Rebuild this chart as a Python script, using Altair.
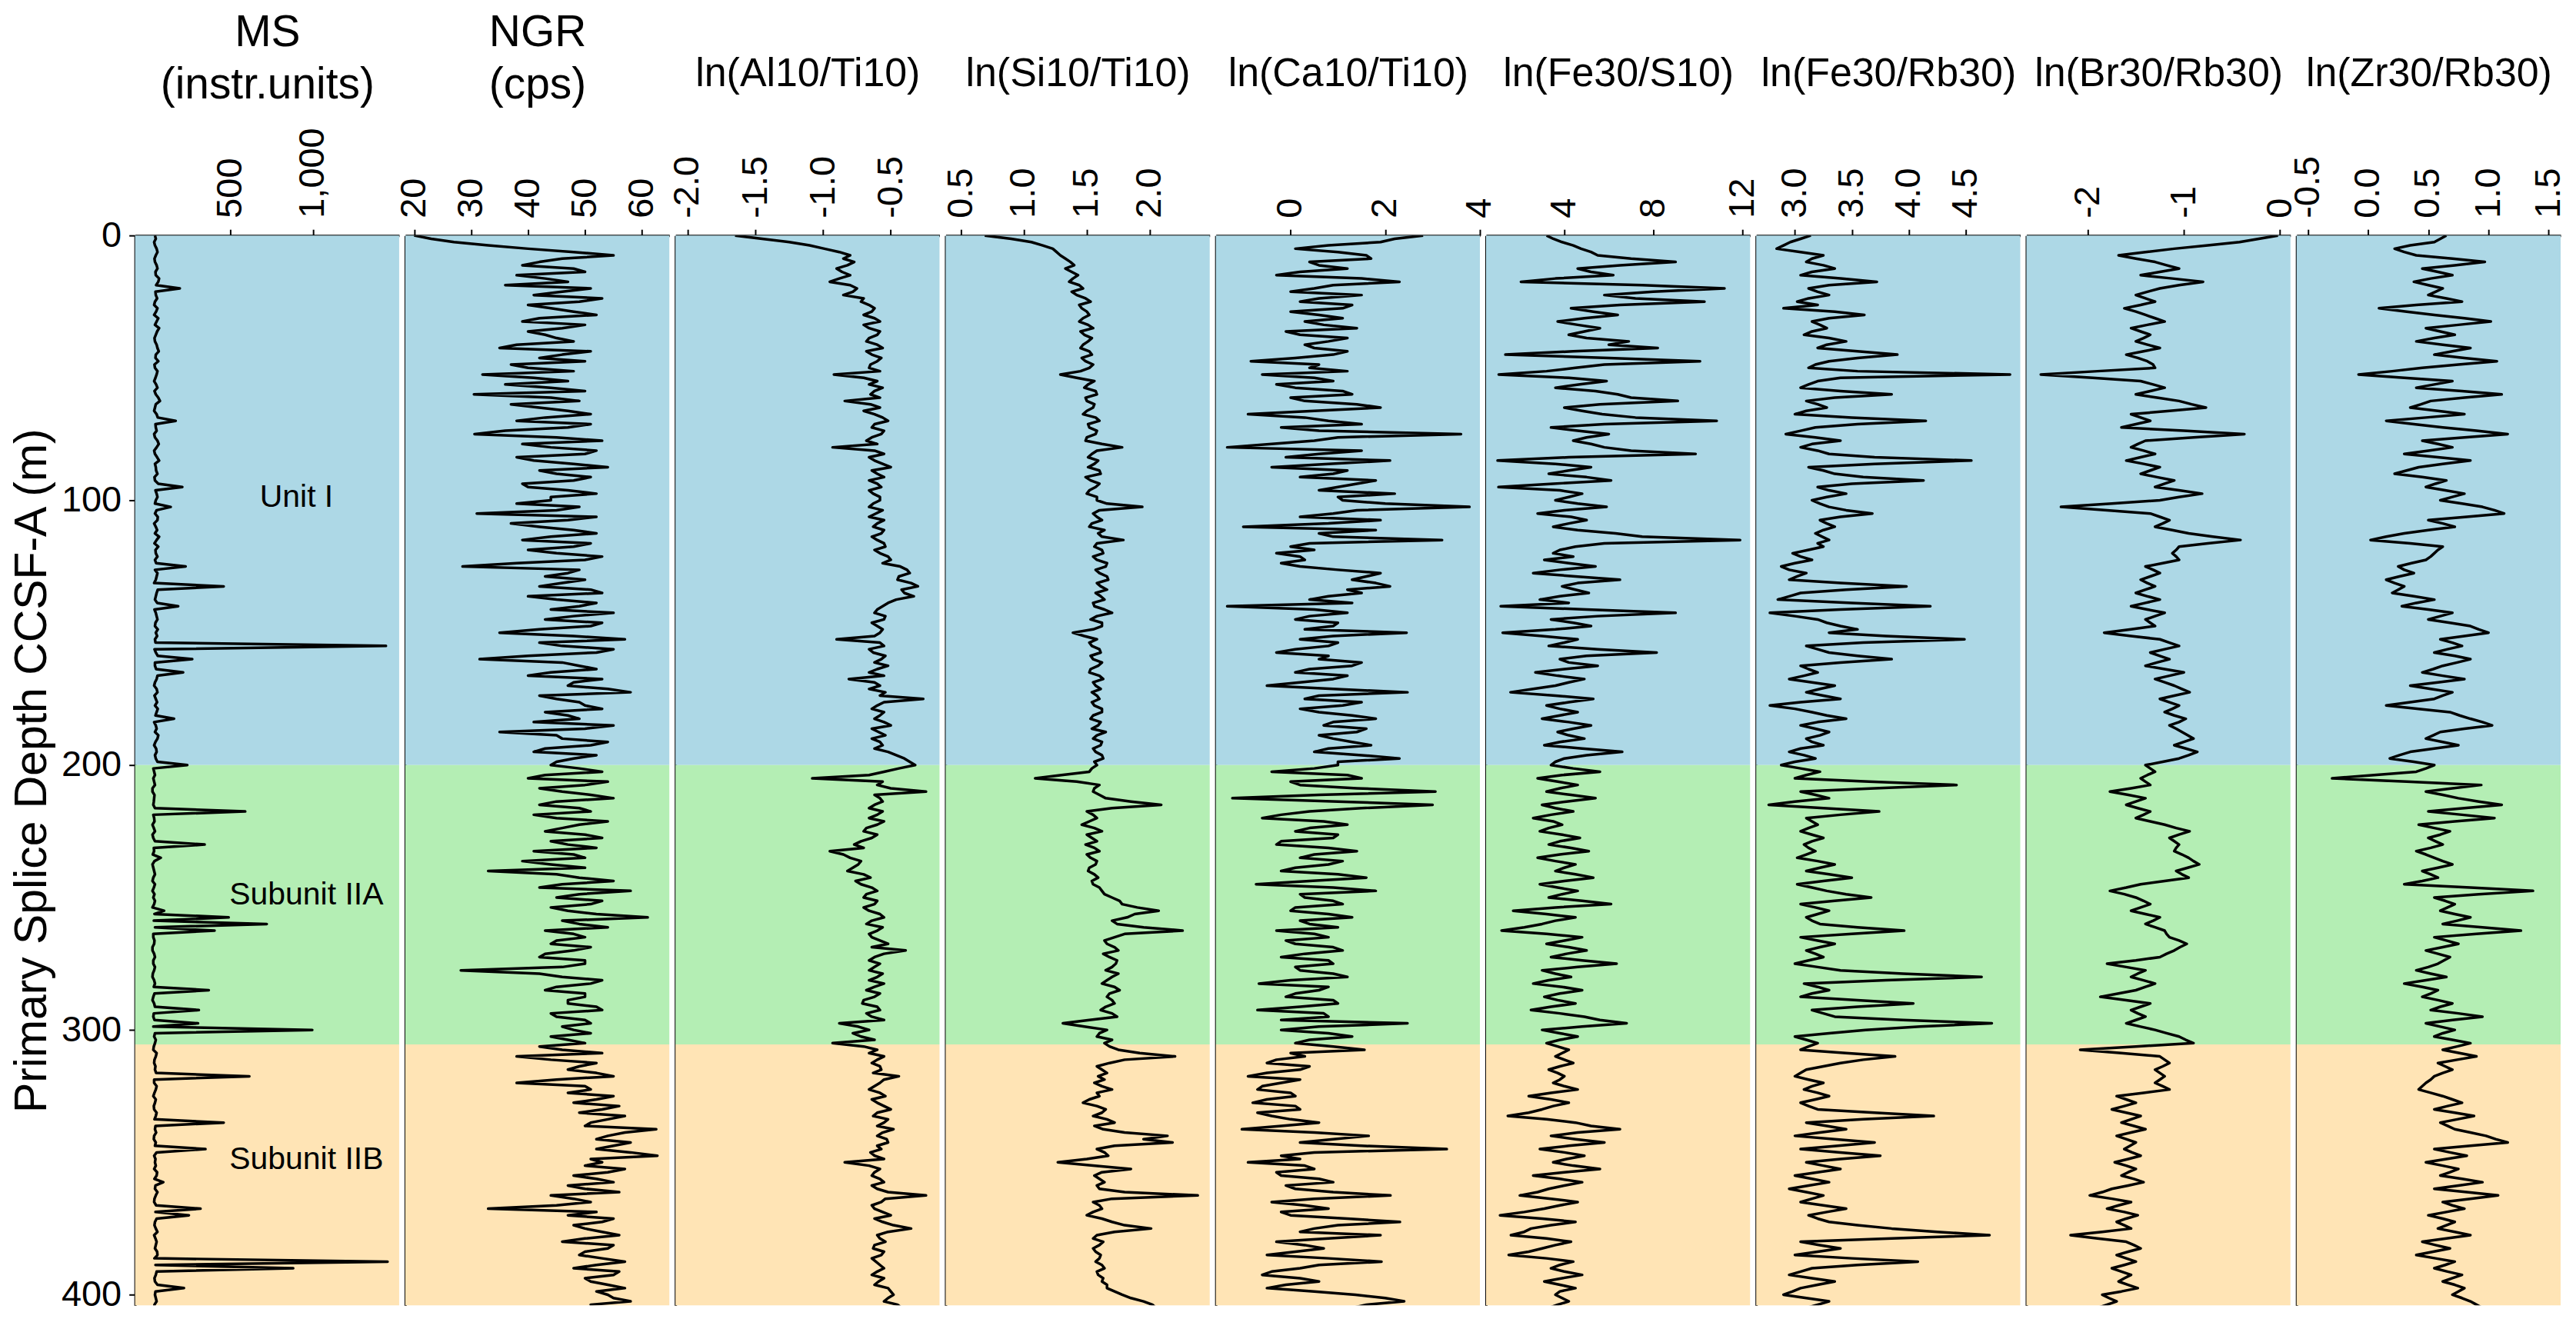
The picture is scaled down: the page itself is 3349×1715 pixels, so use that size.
import altair as alt
import pandas as pd

FONT = "Liberation Sans, Arial, sans-serif"

# depth grids (m): main samples every 2.5 m, intermediate samples half-way between
depth = [round(i * 2.5, 2) for i in range(164)]
depth_mid = [round(1.25 + i * 2.5, 2) for i in range(163)]

ms = [
    45, 40, 55, 50, 45, 60, 50, 65, 195, 50, 45, 60, 40, 55, 70, 50, 45, 60, 50, 65,
    45, 55, 40, 60, 50, 75, 45, 55, 170, 50, 40, 60, 55, 45, 70, 50, 60, 45, 210, 55,
    50, 140, 45, 60, 50, 45, 55, 65, 50, 45, 230, 60, 50, 460, 55, 45, 185, 50, 60, 45,
    50, 45, 1440, 50, 270, 45, 215, 55, 40, 60, 50, 45, 55, 160, 50, 45, 60, 40, 55, 50,
    240, 40, 35, 45, 30, 40, 35, 590, 40, 30, 45, 35, 345, 40, 80, 30, 40, 35, 45, 30,
    35, 40, 100, 490, 720, 405, 35, 40, 30, 45, 35, 40, 30, 45, 370, 35, 40, 310, 35, 305,
    995, 40, 45, 35, 50, 40, 45, 615, 40, 50, 35, 45, 40, 50, 460, 45, 40, 50, 350, 40,
    45, 40, 55, 95, 45, 50, 40, 320, 250, 45, 50, 40, 55, 45, 60, 1450, 880, 50, 45, 220,
    45, 55, 40, 50,
]
ms_mid = [
    50, 45, 60, 42, 55, 48, 70, 52, 48, 58, 40, 52, 65, 45, 58, 42, 55, 68, 48, 42,
    60, 48, 52, 42, 65, 50, 40, 62, 48, 55, 45, 68, 40, 58, 45, 52, 42, 65, 48, 60,
    45, 55, 62, 40, 58, 70, 42, 48, 60, 52, 45, 55, 40, 62, 50, 58, 42, 55, 48, 62,
    58, 48, 42, 62, 45, 52, 60, 45, 55, 42, 58, 62, 48, 40, 55, 65, 48, 52, 45, 60,
    35, 45, 40, 30, 42, 38, 45, 35, 42, 38, 30, 45, 38, 32, 42, 35, 45, 30, 38, 42,
    45, 30, 42, 38, 45, 35, 42, 30, 40, 35, 45, 32, 40, 38, 42, 30, 45, 38, 42, 35,
    45, 50, 38, 55, 42, 48, 52, 40, 55, 42, 50, 38, 55, 42, 48, 52, 38, 45, 55, 48,
    50, 58, 42, 48, 60, 42, 52, 48, 55, 42, 60, 48, 50, 58, 42, 48, 55, 42, 60, 48,
    50, 42, 58,
]

ngr = [
    20, 27, 40, 55, 42, 48, 38, 47, 51, 41, 49, 44, 52, 39, 46, 43, 48, 35, 46, 50,
    40, 32, 47, 44, 30.5, 49, 42, 51, 38, 47, 30.6, 53, 44, 50, 41, 54, 45, 48, 40, 52,
    44, 49, 31, 47, 42, 52, 39, 48, 45, 50, 28.5, 47, 50, 42, 53, 45, 49, 55, 43, 51,
    35, 57, 46, 52, 31.5, 49, 44, 53, 47, 58, 45, 50, 43, 49, 55, 35, 46, 51, 41, 48,
    44, 53, 40, 50, 46, 55, 42, 51, 45, 49, 43, 53, 47, 41, 50, 44, 33, 49, 46, 58,
    45, 51, 47, 61, 49, 43, 50, 44, 48, 42, 50, 28.2, 46, 51, 43, 50, 47, 53, 45, 51,
    48, 44, 50, 46, 38, 52, 47, 55, 38, 51, 55, 48, 53, 57, 51, 62.5, 54, 58, 52, 62.7,
    53, 57, 48, 55, 50, 44, 51, 33, 47, 53, 50, 56, 46, 54, 49, 57, 48, 55, 51, 57,
    54, 58, 52, 56,
]
ngr_mid = [
    23, 33, 48, 46, 39, 50, 43, 36, 46, 53, 40, 48, 42, 50, 40, 45, 38, 51, 42, 37,
    48, 41, 36, 50, 44, 37, 47, 43, 51, 36, 45, 39, 52, 38, 48, 42, 51, 39, 47, 44,
    38, 45, 52, 37, 48, 44, 51, 40, 53, 38, 49, 43, 46, 51, 40, 52, 44, 48, 53, 42,
    48, 42, 55, 40, 46, 52, 40, 48, 54, 42, 49, 53, 47, 41, 50, 45, 54, 43, 52, 45,
    49, 43, 54, 42, 51, 45, 49, 41, 54, 46, 50, 44, 52, 48, 39, 50, 45, 55, 42, 49,
    53, 44, 52, 46, 54, 48, 45, 51, 43, 50, 46, 42, 53, 45, 50, 47, 52, 44, 50, 46,
    51, 47, 42, 53, 44, 49, 52, 45, 50, 47, 52, 56, 49, 54, 50, 57, 52, 55, 58, 51,
    50, 54, 52, 47, 56, 48, 45, 52, 55, 48, 53, 50, 55, 50, 53, 52, 56, 50, 54, 52,
    55, 51, 57,
]

al_ti = [
    -1.65, -1.25, -0.99, -0.80, -0.77, -0.90, -0.80, -0.95, -0.75, -0.85, -0.72, -0.62, -0.70, -0.58, -0.66, -0.60, -0.68, -0.56, -0.64, -0.60,
    -0.66, -0.92, -0.60, -0.56, -0.65, -0.84, -0.58, -0.62, -0.52, -0.64, -0.57, -0.68, -0.93, -0.55, -0.62, -0.50, -0.60, -0.66, -0.57, -0.63,
    -0.58, -0.66, -0.61, -0.55, -0.63, -0.57, -0.60, -0.54, -0.58, -0.50, -0.43, -0.36, -0.45, -0.30, -0.40, -0.46, -0.56, -0.62, -0.55, -0.60,
    -0.58, -0.90, -0.55, -0.63, -0.57, -0.52, -0.66, -0.81, -0.58, -0.54, -0.26, -0.60, -0.55, -0.62, -0.50, -0.59, -0.64, -0.56, -0.52, -0.40,
    -0.32, -0.55, -1.08, -0.60, -0.24, -0.58, -0.62, -0.56, -0.66, -0.60, -0.70, -0.64, -0.77, -0.95, -0.80, -0.74, -0.82, -0.65, -0.72, -0.60,
    -0.70, -0.62, -0.66, -0.55, -0.68, -0.60, -0.64, -0.52, -0.39, -0.62, -0.58, -0.66, -0.60, -0.55, -0.68, -0.62, -0.71, -0.58, -0.64, -0.88,
    -0.66, -0.72, -0.93, -0.60, -0.55, -0.64, -0.57, -0.44, -0.58, -0.66, -0.54, -0.60, -0.50, -0.63, -0.55, -0.48, -0.60, -0.52, -0.57, -0.62,
    -0.84, -0.58, -0.64, -0.55, -0.60, -0.24, -0.57, -0.62, -0.50, -0.56, -0.35, -0.60, -0.54, -0.63, -0.57, -0.61, -0.55, -0.64, -0.59, -0.52,
    -0.48, -0.55, -0.42, -0.40,
]
al_ti_mid = [
    -1.45, -1.10, -0.88, -0.85, -0.82, -0.86, -0.88, -0.80, -0.78, -0.70, -0.66, -0.64, -0.62, -0.70, -0.58, -0.66, -0.60, -0.68, -0.57, -0.65,
    -0.58, -0.70, -0.66, -0.62, -0.58, -0.65, -0.70, -0.56, -0.62, -0.55, -0.64, -0.60, -0.62, -0.66, -0.56, -0.64, -0.55, -0.60, -0.66, -0.58,
    -0.63, -0.56, -0.66, -0.60, -0.55, -0.64, -0.55, -0.62, -0.52, -0.56, -0.38, -0.44, -0.35, -0.42, -0.33, -0.52, -0.60, -0.54, -0.64, -0.56,
    -0.62, -0.58, -0.66, -0.54, -0.62, -0.60, -0.55, -0.62, -0.66, -0.58, -0.55, -0.64, -0.58, -0.55, -0.64, -0.54, -0.58, -0.62, -0.46, -0.36,
    -0.44, -0.66, -0.56, -0.50, -0.62, -0.56, -0.66, -0.60, -0.55, -0.68, -0.60, -0.72, -0.70, -0.85, -0.72, -0.78, -0.70, -0.76, -0.64, -0.68,
    -0.60, -0.70, -0.58, -0.64, -0.56, -0.66, -0.58, -0.64, -0.55, -0.66, -0.62, -0.56, -0.66, -0.62, -0.58, -0.70, -0.60, -0.68, -0.55, -0.74,
    -0.78, -0.62, -0.70, -0.66, -0.60, -0.58, -0.63, -0.55, -0.62, -0.58, -0.64, -0.55, -0.60, -0.52, -0.60, -0.56, -0.53, -0.60, -0.65, -0.55,
    -0.66, -0.62, -0.58, -0.64, -0.52, -0.54, -0.64, -0.56, -0.62, -0.48, -0.52, -0.58, -0.62, -0.55, -0.64, -0.58, -0.60, -0.55, -0.62, -0.50,
    -0.52, -0.45, -0.46,
]

si_ti = [
    0.69, 1.06, 1.23, 1.29, 1.37, 1.33, 1.43, 1.36, 1.47, 1.42, 1.53, 1.46, 1.52, 1.44, 1.55, 1.48, 1.51, 1.45, 1.54, 1.49,
    1.52, 1.29, 1.56, 1.48, 1.58, 1.50, 1.55, 1.47, 1.60, 1.52, 1.57, 1.49, 1.78, 1.54, 1.59, 1.51, 1.61, 1.53, 1.57, 1.50,
    1.58, 1.94, 1.55, 1.62, 1.52, 1.59, 1.79, 1.56, 1.63, 1.58, 1.65, 1.60, 1.67, 1.61, 1.57, 1.64, 1.56, 1.70, 1.53, 1.62,
    1.39, 1.58, 1.54, 1.61, 1.55, 1.59, 1.52, 1.63, 1.57, 1.54, 1.60, 1.56, 1.62, 1.53, 1.59, 1.65, 1.55, 1.61, 1.57, 1.63,
    1.58, 1.52, 1.09, 1.60, 1.55, 1.65, 2.09, 1.50, 1.58, 1.46, 1.62, 1.54, 1.49, 1.60, 1.53, 1.57, 1.51, 1.59, 1.55, 1.62,
    1.70, 1.78, 2.07, 1.82, 1.74, 2.26, 1.72, 1.66, 1.75, 1.68, 1.73, 1.65, 1.70, 1.62, 1.76, 1.66, 1.72, 1.61, 1.74, 1.31,
    1.66, 1.58, 1.64, 1.75, 2.20, 1.68, 1.62, 1.59, 1.56, 1.70, 1.60, 1.47, 1.65, 1.55, 1.72, 1.63, 2.14, 2.18, 1.58, 1.67,
    1.27, 1.85, 1.56, 1.64, 1.60, 2.38, 1.55, 1.62, 1.50, 1.70, 2.01, 1.58, 1.63, 1.55, 1.61, 1.57, 1.64, 1.59, 1.62, 1.66,
    1.78, 1.95, 2.05, 1.98,
]
si_ti_mid = [
    0.90, 1.15, 1.26, 1.33, 1.40, 1.38, 1.39, 1.44, 1.38, 1.49, 1.44, 1.50, 1.47, 1.51, 1.45, 1.54, 1.47, 1.52, 1.46, 1.55,
    1.45, 1.42, 1.51, 1.57, 1.49, 1.56, 1.50, 1.57, 1.51, 1.58, 1.50, 1.62, 1.58, 1.51, 1.56, 1.60, 1.49, 1.60, 1.52, 1.58,
    1.66, 1.60, 1.58, 1.54, 1.64, 1.62, 1.58, 1.62, 1.55, 1.66, 1.57, 1.66, 1.58, 1.66, 1.61, 1.55, 1.64, 1.58, 1.62, 1.55,
    1.48, 1.52, 1.60, 1.53, 1.62, 1.53, 1.60, 1.55, 1.61, 1.58, 1.54, 1.62, 1.55, 1.61, 1.54, 1.58, 1.62, 1.55, 1.62, 1.56,
    1.54, 1.30, 1.42, 1.56, 1.60, 1.85, 1.70, 1.55, 1.52, 1.56, 1.50, 1.58, 1.56, 1.50, 1.58, 1.52, 1.56, 1.54, 1.60, 1.64,
    1.76, 1.90, 1.88, 1.70, 1.95, 1.80, 1.64, 1.72, 1.63, 1.74, 1.70, 1.75, 1.66, 1.72, 1.68, 1.70, 1.65, 1.70, 1.52, 1.48,
    1.60, 1.70, 1.68, 1.92, 1.80, 1.58, 1.66, 1.64, 1.62, 1.58, 1.52, 1.58, 1.62, 1.66, 1.56, 1.80, 1.95, 1.72, 1.64, 1.50,
    1.55, 1.62, 1.60, 1.58, 1.80, 1.70, 1.60, 1.55, 1.62, 1.80, 1.72, 1.55, 1.60, 1.57, 1.60, 1.62, 1.58, 1.63, 1.66, 1.72,
    1.85, 2.02, 1.92,
]

ca_ti = [
    2.8, 1.9, 0.1, 1.6, 0.4, 1.2, -0.3, 2.3, 0.5, 1.5, 0.2, 1.1, 0.6, 0.3, 1.4, 0.2, 0.8, 0.5, 0.9, -0.84,
    0.4, -0.6, 0.9, 0.1, 1.3, 0.3, 1.9, -0.9, 0.8, -0.2, 3.6, 0.5, -1.34, 0.6, 2.1, -0.4, 0.9, 1.8, 1.0, 2.2,
    1.1, 3.78, 0.9, 1.9, -1.0, 0.6, 3.2, 0.0, -0.3, 0.3, 0.2, 1.9, 1.3, 2.1, 1.5, 0.4, -1.34, 1.2, 0.1, 0.9,
    2.45, 0.2, 0.8, -0.3, 0.6, 1.3, 0.1, 0.9, -0.5, 2.47, 0.3, 1.1, 0.6, 1.8, 0.7, 1.4, 0.9, 1.7, 0.5, 2.3,
    1.0, -0.4, 1.5, 0.2, 3.06, -1.23, 3.0, 0.4, -0.6, 1.2, 0.1, 0.9, -0.3, 1.4, 0.2, 0.8, -0.2, 1.6, -0.73, 1.8,
    0.3, 1.1, 0.0, 1.3, 0.4, -0.3, 0.8, 0.1, 1.1, -0.2, 0.9, 0.2, 1.2, -0.67, 0.6, -0.1, 1.0, -0.7, 0.8, 2.47,
    -0.2, 1.3, 0.1, 1.56, 0.3, -0.5, 0.2, -0.9, -0.2, -0.7, 0.1, -0.8, 0.2, -0.4, 0.6, -1.03, 1.65, 0.2, 3.3, -0.2,
    -0.9, 0.5, -0.2, 0.9, 0.1, 2.11, -0.4, 0.8, 0.0, 2.31, 0.5, 1.9, -0.3, 0.7, -0.5, 1.92, 0.2, -0.6, 0.6, -0.5,
    1.37, 2.4, 1.3, 2.1,
]
ca_ti_mid = [
    2.2, 0.8, 1.0, 1.7, 0.6, 0.2, 1.5, 0.9, 0.0, 0.6, 1.3, 0.0, 1.1, 0.7, -0.1, 1.2, 0.3, 1.2, 0.1, 0.6,
    1.2, 0.5, -0.3, 1.1, 0.0, 1.4, 0.5, 0.3, 1.5, 0.6, 1.0, -0.4, 1.5, -0.1, 0.8, 1.2, 0.2, 1.4, 0.6, 1.0,
    2.0, 1.4, 0.2, 0.8, 1.8, 0.9, 0.4, 0.5, 0.2, -0.2, 1.0, 1.6, 1.8, 1.2, 0.8, 1.3, 0.5, 0.4, 1.0, 0.3,
    0.9, 1.0, 0.1, 0.8, 1.5, 0.4, 1.2, 0.2, 0.9, 0.6, 1.5, 0.2, 1.3, 0.9, 1.6, 0.6, 1.3, 0.8, 1.5, 1.0,
    0.5, 1.2, 0.0, 1.4, 0.6, 1.0, 1.5, -0.2, 0.7, 0.4, 1.0, -0.2, 0.8, 0.5, 1.1, 0.1, 1.0, 0.4, 0.9, 0.2,
    0.9, 0.1, 0.8, 0.2, 1.0, 0.5, -0.1, 0.9, 0.3, 0.8, 0.1, 0.9, 0.0, 0.8, 0.1, 0.9, 0.2, 0.7, -0.2, 0.6,
    0.8, 0.4, 0.9, 0.0, -0.3, 0.4, -0.5, 0.2, -0.6, 0.0, -0.5, 0.1, -0.7, 0.0, -0.2, 0.5, 0.9, 1.5, 0.5, 0.2,
    0.3, -0.3, 0.6, -0.1, 0.9, 0.5, 0.3, -0.2, 1.2, 1.0, 0.2, 0.8, 0.3, 0.1, 0.8, 0.6, -0.4, 0.2, -0.1, 0.5,
    2.0, 1.6, 2.5,
]

fe_s = [
    3.2, 3.9, 4.75, 5.5, 9.0, 4.6, 6.2, 2.05, 11.2, 5.8, 10.3, 4.3, 6.4, 3.7, 5.6, 4.2, 6.9, 8.2, 1.35, 10.1,
    4.5, 1.05, 5.9, 3.6, 6.4, 9.1, 4.0, 5.7, 10.85, 3.4, 6.0, 4.4, 5.8, 9.9, 1.0, 5.2, 3.3, 6.1, 1.04, 4.8,
    3.6, 5.9, 2.8, 5.0, 3.5, 6.3, 11.9, 4.5, 3.5, 3.1, 5.4, 2.6, 6.5, 3.9, 5.1, 2.9, 1.14, 9.0, 3.4, 5.2,
    1.23, 4.6, 3.3, 8.15, 3.8, 5.5, 2.7, 4.9, 3.6, 1.58, 5.3, 3.2, 4.6, 3.0, 5.2, 3.7, 4.9, 3.1, 6.6, 4.0,
    3.4, 5.6, 2.8, 4.6, 3.2, 5.4, 3.0, 4.4, 2.6, 3.9, 2.9, 4.7, 3.3, 5.1, 2.8, 4.5, 3.6, 5.3, 2.9, 4.6,
    3.3, 6.1, 1.7, 4.5, 3.0, 1.18, 4.8, 3.2, 5.0, 3.4, 6.35, 3.0, 4.3, 2.6, 4.8, 3.1, 4.5, 2.5, 4.9, 6.8,
    3.0, 4.6, 3.2, 4.2, 3.6, 4.4, 3.3, 4.0, 3.5, 4.6, 2.4, 4.2, 3.0, 1.46, 4.5, 6.5, 3.4, 5.8, 2.9, 4.9,
    3.5, 5.6, 2.6, 4.8, 3.3, 2.0, 4.6, 3.1, 1.11, 4.5, 2.5, 1.6, 4.3, 3.0, 1.5, 4.4, 3.4, 4.8, 3.1, 4.5,
    3.6, 4.2, 3.3, 4.0,
]
fe_s_mid = [
    3.5, 4.4, 5.2, 7.0, 6.5, 5.2, 3.6, 7.5, 8.0, 7.2, 6.5, 5.3, 4.9, 4.6, 4.9, 5.0, 6.0, 4.4, 6.0, 5.8,
    3.2, 4.2, 4.7, 5.4, 7.0, 5.6, 4.8, 7.2, 5.8, 4.6, 5.0, 5.2, 7.0, 4.2, 3.6, 4.2, 5.0, 3.5, 3.8, 4.2,
    4.6, 4.0, 4.3, 4.2, 4.6, 7.5, 5.8, 3.8, 4.4, 4.2, 3.8, 4.5, 4.6, 4.5, 3.8, 4.2, 5.0, 5.5, 4.4, 3.6,
    3.0, 4.0, 5.5, 5.0, 4.2, 4.0, 3.7, 4.2, 2.6, 3.6, 4.2, 3.8, 3.8, 4.2, 4.4, 4.2, 3.8, 4.8, 5.0, 3.6,
    4.4, 3.9, 3.7, 3.8, 4.3, 4.1, 3.6, 3.4, 3.5, 3.3, 3.9, 3.8, 4.3, 3.8, 3.6, 4.0, 4.5, 4.0, 3.7, 3.9,
    4.8, 3.6, 3.2, 3.6, 2.2, 3.2, 4.0, 4.2, 4.1, 4.8, 4.6, 3.6, 3.3, 3.9, 3.8, 3.7, 3.4, 3.8, 5.6, 4.8,
    3.8, 3.8, 3.7, 3.9, 4.0, 3.8, 3.7, 3.8, 4.0, 3.4, 3.4, 3.5, 2.4, 3.2, 5.2, 4.6, 4.5, 4.2, 4.0, 4.1,
    4.4, 4.0, 3.8, 4.0, 2.8, 3.4, 3.8, 2.2, 3.0, 3.4, 2.2, 3.2, 3.6, 2.4, 3.2, 3.8, 4.0, 3.9, 3.8, 3.8,
    3.9, 3.7, 3.8,
]

fe_rb = [
    3.14, 2.96, 2.84, 3.25, 3.10, 3.35, 3.05, 3.72, 3.12, 3.30, 3.02, 2.90, 3.61, 3.15, 3.28, 3.08, 3.45, 3.20, 3.90, 3.30,
    3.12, 4.89, 3.20, 3.05, 3.85, 3.10, 3.28, 3.00, 4.15, 3.18, 2.92, 3.40, 3.05, 3.30, 4.55, 3.12, 3.35, 4.13, 3.20, 3.45,
    3.15, 3.30, 3.68, 3.22, 3.35, 3.18, 3.30, 3.25, 2.98, 3.15, 2.88, 3.10, 2.95, 3.98, 3.05, 2.85, 4.19, 2.78, 3.20, 3.40,
    3.30, 4.49, 3.10, 3.30, 3.85, 3.05, 3.20, 2.95, 3.35, 3.10, 3.40, 2.78, 3.15, 3.45, 3.05, 3.30, 3.10, 3.25, 2.95, 3.18,
    2.88, 3.22, 3.00, 4.42, 3.05, 3.30, 2.77, 3.74, 3.10, 3.20, 3.05, 3.25, 3.08, 3.18, 3.02, 3.35, 3.10, 3.50, 3.02, 3.28,
    3.67, 3.05, 3.30, 3.10, 3.22, 3.96, 3.05, 3.35, 3.10, 3.25, 3.00, 3.40, 4.64, 3.08, 3.30, 3.05, 4.04, 3.15, 3.35, 4.73,
    3.62, 3.00, 3.20, 3.05, 3.88, 3.40, 3.10, 3.00, 3.25, 3.08, 3.30, 3.05, 3.20, 4.22, 3.10, 3.45, 3.00, 3.70, 3.05, 3.75,
    3.10, 3.40, 3.00, 3.30, 2.95, 3.25, 3.05, 3.45, 3.12, 3.30, 3.85, 4.71, 3.05, 3.40, 3.00, 4.08, 3.15, 2.95, 3.35, 3.05,
    2.90, 3.30, 3.10, 3.50,
]
fe_rb_mid = [
    3.05, 2.90, 3.05, 3.15, 3.25, 3.15, 3.40, 3.30, 3.20, 3.12, 3.20, 3.35, 3.30, 3.22, 3.15, 3.30, 3.28, 3.55, 3.55, 3.18,
    3.55, 3.40, 3.12, 3.40, 3.35, 3.20, 3.10, 3.50, 3.55, 3.05, 3.18, 3.15, 3.20, 3.70, 3.70, 3.25, 3.60, 3.50, 3.30, 3.28,
    3.22, 3.45, 3.40, 3.28, 3.25, 3.24, 3.20, 3.12, 3.05, 3.00, 2.95, 3.02, 3.40, 3.45, 2.95, 3.50, 3.40, 3.00, 3.28, 3.55,
    3.80, 3.60, 3.20, 3.55, 3.40, 3.12, 3.08, 3.15, 3.22, 3.25, 3.05, 3.00, 3.28, 3.20, 3.18, 3.22, 3.15, 3.05, 3.08, 3.00,
    3.05, 3.10, 3.65, 3.70, 3.18, 3.00, 3.25, 3.40, 3.15, 3.12, 3.15, 3.15, 3.12, 3.10, 3.20, 3.22, 3.30, 3.25, 3.15, 3.45,
    3.35, 3.18, 3.20, 3.15, 3.55, 3.50, 3.20, 3.22, 3.18, 3.12, 3.20, 3.95, 3.80, 3.20, 3.15, 3.55, 3.55, 3.25, 3.95, 4.10,
    3.30, 3.10, 3.12, 3.45, 3.60, 3.25, 3.05, 3.12, 3.15, 3.20, 3.18, 3.12, 3.70, 3.60, 3.28, 3.22, 3.35, 3.38, 3.40, 3.40,
    3.25, 3.20, 3.15, 3.12, 3.10, 3.15, 3.25, 3.28, 3.20, 3.55, 4.25, 3.85, 3.22, 3.20, 3.50, 3.55, 3.05, 3.15, 3.20, 2.98,
    3.10, 3.20, 3.30,
]

br_rb = [
    -0.02, -0.42, -1.10, -1.68, -1.30, -1.05, -1.45, -0.80, -1.25, -1.50, -1.30, -1.62, -1.40, -1.20, -1.55, -1.35, -1.50, -1.25, -1.60, -1.38,
    -1.30, -2.49, -1.45, -1.20, -1.50, -1.05, -0.77, -1.55, -1.35, -1.65, -0.37, -1.40, -1.55, -1.30, -1.60, -1.25, -1.45, -1.10, -1.30, -0.81,
    -1.25, -2.28, -1.35, -1.15, -1.30, -0.95, -0.41, -1.05, -1.12, -1.05, -1.40, -1.25, -1.45, -1.30, -1.50, -1.25, -1.55, -1.20, -1.40, -1.30,
    -1.83, -1.25, -1.05, -1.35, -1.15, -1.40, -1.00, -1.30, -1.10, -0.94, -1.25, -1.05, -1.20, -0.98, -1.15, -1.02, -0.90, -1.10, -0.86, -1.05,
    -1.40, -1.30, -1.45, -1.35, -1.77, -1.40, -1.60, -1.35, -1.50, -1.20, -0.94, -1.15, -1.05, -1.10, -0.95, -0.84, -1.08, -0.95, -1.45, -1.77,
    -1.50, -1.35, -1.55, -1.25, -1.40, -1.20, -1.15, -0.97, -1.10, -1.25, -1.80, -1.40, -1.55, -1.30, -1.50, -1.87, -1.35, -1.55, -1.40, -1.60,
    -1.30, -1.05, -0.90, -2.08, -1.25, -1.15, -1.30, -1.20, -1.30, -1.15, -1.70, -1.50, -1.75, -1.45, -1.65, -1.40, -1.70, -1.50, -1.62, -1.45,
    -1.72, -1.50, -1.65, -1.42, -1.75, -1.98, -1.55, -1.80, -1.48, -1.70, -1.55, -2.18, -1.60, -1.45, -1.70, -1.50, -1.75, -1.55, -1.68, -1.48,
    -1.85, -1.70, -1.90, -1.80,
]
br_rb_mid = [
    -0.22, -0.75, -1.40, -1.50, -1.18, -1.25, -1.12, -1.05, -1.38, -1.40, -1.45, -1.50, -1.30, -1.38, -1.45, -1.42, -1.38, -1.42, -1.48, -1.32,
    -1.90, -1.95, -1.32, -1.35, -1.28, -0.92, -1.15, -1.45, -1.50, -1.00, -0.90, -1.48, -1.42, -1.45, -1.42, -1.35, -1.28, -1.20, -1.05, -1.05,
    -1.75, -1.80, -1.25, -1.22, -1.12, -0.70, -0.75, -1.08, -1.08, -1.22, -1.32, -1.35, -1.38, -1.40, -1.38, -1.40, -1.38, -1.30, -1.35, -1.55,
    -1.55, -1.15, -1.20, -1.25, -1.28, -1.20, -1.15, -1.20, -1.02, -1.10, -1.15, -1.12, -1.10, -1.05, -1.08, -0.96, -1.00, -0.98, -0.95, -1.22,
    -1.35, -1.38, -1.40, -1.55, -1.58, -1.50, -1.48, -1.42, -1.35, -1.08, -1.05, -1.10, -1.08, -1.02, -0.90, -0.96, -1.02, -1.20, -1.60, -1.62,
    -1.42, -1.45, -1.40, -1.32, -1.30, -1.18, -1.05, -1.04, -1.18, -1.50, -1.60, -1.48, -1.42, -1.40, -1.68, -1.60, -1.45, -1.48, -1.50, -1.45,
    -1.18, -0.98, -1.50, -1.65, -1.20, -1.22, -1.25, -1.25, -1.22, -1.42, -1.60, -1.62, -1.60, -1.55, -1.52, -1.55, -1.60, -1.56, -1.54, -1.58,
    -1.60, -1.58, -1.52, -1.58, -1.85, -1.75, -1.68, -1.62, -1.60, -1.62, -1.85, -1.90, -1.52, -1.58, -1.60, -1.62, -1.65, -1.62, -1.58, -1.65,
    -1.78, -1.80, -1.85,
]

zr_rb = [
    0.65, 0.55, 0.22, 0.40, 0.97, 0.45, 0.70, 0.38, 0.62, 0.50, 0.78, 0.09, 0.55, 1.02, 0.48, 0.72, 0.40, 0.85, 0.55, 1.07,
    0.45, -0.08, 0.70, 0.40, 1.11, 0.52, 0.35, 0.80, 0.15, 0.62, 1.16, 0.45, 0.70, 0.30, 0.85, 0.42, 0.22, 0.65, 0.48, 0.80,
    0.60, 0.95, 1.13, 0.50, 0.72, 0.30, 0.02, 0.62, 0.55, 0.48, 0.25, 0.38, 0.15, 0.30, 0.20, 0.55, 0.28, 0.70, 0.50, 0.85,
    1.00, 0.60, 0.78, 0.55, 0.85, 0.62, 0.45, 0.80, 0.35, 0.70, 0.55, 0.15, 0.68, 0.85, 1.03, 0.60, 0.48, 0.75, 0.35, 0.18,
    0.55, 0.40, -0.30, 0.94, 0.48, 0.75, 1.11, 0.50, 1.05, 0.42, 0.68, 0.50, 0.62, 0.40, 0.55, 0.70, 0.45, 0.58, 0.30, 1.37,
    0.55, 0.72, 0.60, 0.85, 0.62, 1.27, 0.55, 0.75, 0.48, 0.68, 0.58, 0.40, 0.65, 0.30, 0.58, 0.45, 0.70, 0.52, 0.95, 0.48,
    0.72, 0.55, 0.85, 0.62, 0.90, 0.58, 0.70, 0.55, 0.48, 0.42, 0.62, 0.78, 0.55, 0.88, 0.60, 0.72, 0.98, 1.16, 0.55, 0.82,
    0.48, 0.75, 0.60, 0.95, 0.55, 1.08, 0.62, 0.80, 0.50, 0.72, 0.58, 0.85, 0.45, 0.68, 0.40, 0.72, 0.55, 0.78, 0.62, 0.80,
    0.70, 0.85, 0.95, 1.05,
]
zr_rb_mid = [
    0.60, 0.35, 0.30, 0.70, 0.72, 0.58, 0.52, 0.50, 0.56, 0.65, 0.40, 0.32, 0.80, 0.75, 0.60, 0.55, 0.62, 0.70, 0.80, 0.75,
    0.20, 0.30, 0.55, 0.78, 0.80, 0.44, 0.58, 0.48, 0.38, 0.90, 0.80, 0.58, 0.50, 0.58, 0.62, 0.32, 0.45, 0.56, 0.64, 0.70,
    0.78, 1.05, 0.82, 0.62, 0.50, 0.15, 0.35, 0.58, 0.52, 0.36, 0.30, 0.26, 0.22, 0.25, 0.38, 0.40, 0.50, 0.60, 0.68, 0.92,
    0.80, 0.70, 0.66, 0.72, 0.74, 0.54, 0.62, 0.58, 0.52, 0.62, 0.35, 0.42, 0.76, 0.95, 0.80, 0.54, 0.62, 0.55, 0.26, 0.38,
    0.48, 0.05, 0.32, 0.70, 0.62, 0.92, 0.80, 0.78, 0.72, 0.55, 0.60, 0.56, 0.52, 0.48, 0.62, 0.58, 0.52, 0.45, 0.85, 0.92,
    0.64, 0.66, 0.72, 0.74, 0.95, 0.90, 0.65, 0.62, 0.58, 0.63, 0.50, 0.52, 0.48, 0.45, 0.52, 0.58, 0.60, 0.75, 0.70, 0.60,
    0.62, 0.70, 0.74, 0.76, 0.74, 0.64, 0.62, 0.52, 0.45, 0.52, 0.70, 0.66, 0.72, 0.74, 0.66, 0.85, 1.06, 0.85, 0.68, 0.65,
    0.62, 0.68, 0.78, 0.75, 0.82, 0.85, 0.70, 0.65, 0.62, 0.65, 0.72, 0.65, 0.56, 0.54, 0.56, 0.64, 0.66, 0.70, 0.72, 0.75,
    0.78, 0.90, 1.00,
]

# lithologic units (depth ranges, m)
units = ["Unit I", "Subunit IIA", "Subunit IIB"]
unit_top = [0, 200, 305.5]
unit_bottom = [200, 305.5, 404]
unit_colors = ["#ADD8E6", "#B4EEB4", "#FFE4B5"]
# unit labels placed in the MS panel (MS value, depth)
label_ms = [900, 960, 960]
label_depth = [99, 249, 349]

# panel definitions
titles = [["MS", "(instr.units)"], ["NGR", "(cps)"], "ln(Al10/Ti10)", "ln(Si10/Ti10)",
          "ln(Ca10/Ti10)", "ln(Fe30/S10)", "ln(Fe30/Rb30)", "ln(Br30/Rb30)", "ln(Zr30/Rb30)"]
series = [ms, ngr, al_ti, si_ti, ca_ti, fe_s, fe_rb, br_rb, zr_rb]
series_mid = [ms_mid, ngr_mid, al_ti_mid, si_ti_mid, ca_ti_mid, fe_s_mid, fe_rb_mid, br_rb_mid, zr_rb_mid]
domains = [[-75, 1520], [18.45, 64.8], [-2.09, -0.14], [0.38, 2.475], [-1.58, 4.0],
           [0.48, 12.35], [2.66, 4.98], [-2.64, 0.11], [-0.595, 1.6]]
ticks = [[500, 1000], [20, 30, 40, 50, 60], [-2.0, -1.5, -1.0, -0.5], [0.5, 1.0, 1.5, 2.0],
         [0, 2, 4], [4, 8, 12], [3.0, 3.5, 4.0, 4.5], [-2, -1, 0], [-0.5, 0.0, 0.5, 1.0, 1.5]]
formats = [",", "d", ".1f", ".1f", "d", "d", ".1f", "d", ".1f"]

for s in series:
    assert len(s) == len(depth), len(s)
for s in series_mid:
    assert len(s) == len(depth_mid), len(s)

PANEL_W = 344
PANEL_H = 1394
Y_MAX = 404

yscale = alt.Scale(domain=[0, Y_MAX], reverse=True, nice=False, zero=False)

bands_df = pd.DataFrame({"unit": units, "top": unit_top, "bottom": unit_bottom})
labels_df = pd.DataFrame({"text": units, "xv": label_ms, "d": label_depth})

charts = []
for i in range(9):
    first = i == 0
    two_line = isinstance(titles[i], list)
    fmt = formats[i]
    xaxis = alt.Axis(
        orient="top", values=ticks[i],
        labelExpr=f"(datum.value < 0 ? '-' : '') + format(abs(datum.value), '{fmt}')",
        title=titles[i],
        titleY=-235 if two_line else -184,
        titleBaseline="bottom",
        titleAngle=0,
        titleFontSize=57 if two_line else 52,
        titleLineHeight=68,
        titleFontWeight="normal",
        titleLimit=1000,
        labelAngle=270, labelAlign="left", labelBaseline="middle",
        labelFontSize=47, labelPadding=15, labelFlush=False, labelOverlap=False,
        tickSize=8, tickWidth=2, domainWidth=3, grid=False,
    )
    if first:
        yaxis = alt.Axis(
            orient="left", values=[0, 100, 200, 300, 400], format="d",
            title="Primary Splice Depth CCSF-A (m)", titleFontSize=59,
            titleFontWeight="normal", titlePadding=8,
            tickSize=8, tickWidth=2, labelPadding=10, labelFontSize=47,
            domainWidth=3, grid=False,
        )
    else:
        yaxis = alt.Axis(orient="left", labels=False, ticks=False, title=None,
                         domainWidth=3, grid=False)
    xscale = alt.Scale(domain=domains[i], nice=False, zero=False)

    band = alt.Chart(bands_df).mark_rect().encode(
        y=alt.Y("top:Q", scale=yscale, axis=yaxis),
        y2="bottom:Q",
        x=alt.value(0),
        x2=alt.value(PANEL_W),
        color=alt.Color("unit:N", scale=alt.Scale(domain=units, range=unit_colors), legend=None),
    )
    df = pd.DataFrame({"depth": depth + depth_mid, "v": series[i] + series_mid[i]})
    df = df.sort_values("depth").reset_index(drop=True)
    line = alt.Chart(df).mark_line(color="black", strokeWidth=3.5, clip=True,
                                   strokeJoin="round").encode(
        x=alt.X("v:Q", scale=xscale, axis=xaxis),
        y=alt.Y("depth:Q", scale=yscale, axis=yaxis),
        order=alt.Order("depth:Q"),
    )
    layers = [band, line]
    if first:
        txt = alt.Chart(labels_df).mark_text(fontSize=41, font=FONT, color="black").encode(
            x=alt.X("xv:Q", scale=xscale, axis=xaxis),
            y=alt.Y("d:Q", scale=yscale, axis=yaxis),
            text="text:N",
        )
        layers.append(txt)
    charts.append(alt.layer(*layers).properties(width=PANEL_W, height=PANEL_H))

chart = alt.hconcat(*charts, spacing=8, bounds="flush").properties(
    padding={"left": 4, "top": 4, "right": 4, "bottom": 0}
).configure_view(stroke=None).configure_axis(
    domainColor="black", tickColor="black", labelColor="black", titleColor="black",
    labelFont=FONT, titleFont=FONT, grid=False,
)

chart.save("out.html", embed_options={"renderer": "svg", "actions": False})
